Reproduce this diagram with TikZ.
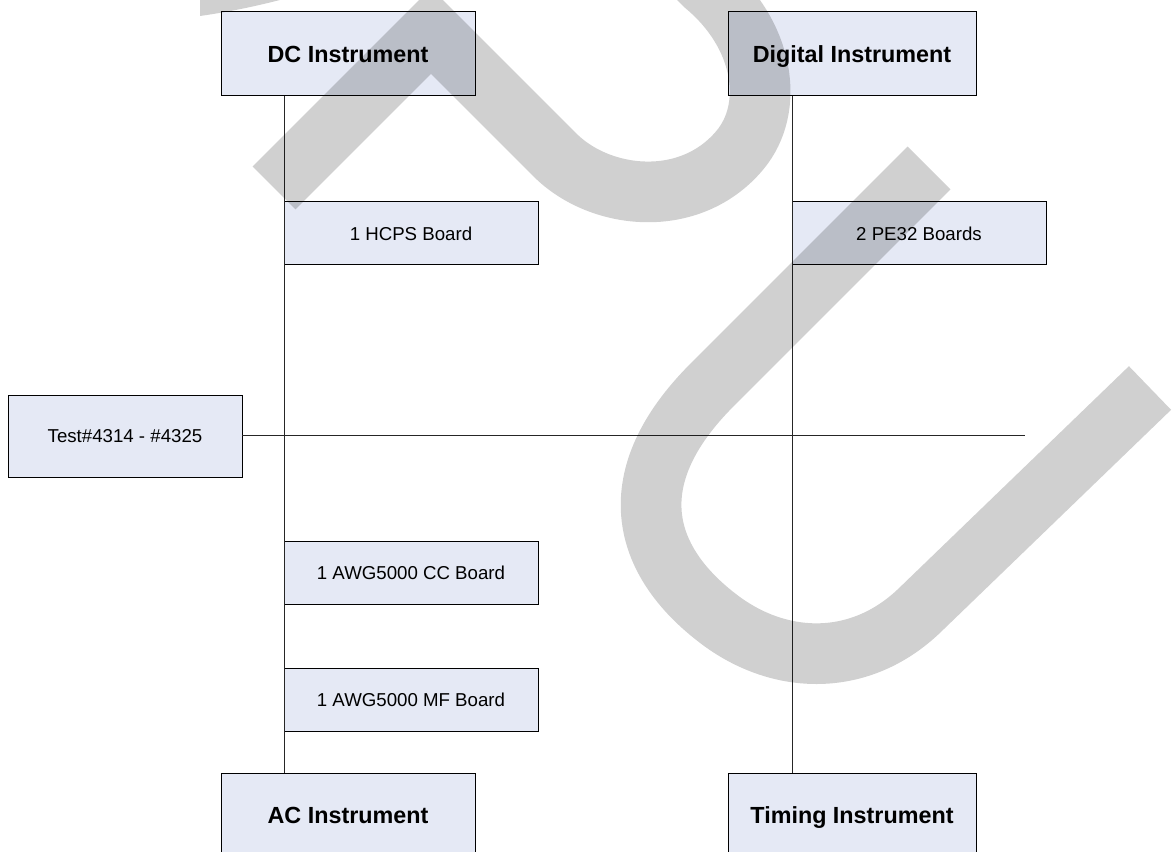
\documentclass[tikz,border=0pt]{standalone}
\usepackage{fontspec}
\setmainfont{Liberation Sans}
\definecolor{boxfill}{RGB}{229,233,245}
\begin{document}
\begin{tikzpicture}[x=0.75pt,y=-0.75pt,
  box/.style={draw=black,line width=0.75pt,fill=boxfill,inner sep=0pt,outer sep=0pt,
              minimum width=254*0.75pt,align=center,text depth=0pt},
  instr/.style={box,minimum height=84*0.75pt,text height=12.5pt,
                font=\fontsize{17.5}{20}\selectfont\bfseries},
  board/.style={box,minimum height=63*0.75pt,text height=10pt,
                font=\fontsize{14}{16}\selectfont},
  link/.style={draw=black!85,line width=0.75pt},
  shadeband/.style={draw=black,draw opacity=0.185,line width=45.5pt,line join=miter}]
\useasboundingbox (0,0) rectangle (1175,852);

% instruments
\node[instr] (dc)  at (348,54)  {DC Instrument};
\node[instr,minimum width=248*0.75pt] (dig) at (852,54)  {Digital Instrument};
\node[instr] (ac)  at (348,815) {AC Instrument};
\node[instr,minimum width=248*0.75pt] (tim) at (852,815) {Timing Instrument};

% boards
\node[board] (hcps) at (411,233.5) {1 HCPS Board};
\node[board] (pe)   at (919,233.5) {2 PE32 Boards};
\node[board] (cc)   at (411,572.5) {1 AWG5000 CC Board};
\node[board] (mf)   at (411,699.5) {1 AWG5000 MF Board};
\node[board,minimum width=234*0.75pt,minimum height=82*0.75pt] (test) at (125,436) {Test\#4314 - \#4325};

% free ends of the horizontal lines
\coordinate (hendA) at (813,435);
\coordinate (hendB) at (1025,435);

% connectors
\draw[link] (hcps.west |- dc.south) -- (hcps.west |- ac.north);
\draw[link] (pe.west |- dig.south) -- (pe.west |- tim.north);
\draw[link] (test.east |- hendA) -- (hendA);
\draw[link] (pe.west |- hendB) -- (hendB);

% grey background strokes
\draw[shadeband] (274,188) -- (431,31) -- (555,155)
  .. controls (600,200) and (690,210) .. (740,150)
  .. controls (775,108) and (765,35) .. (705,-15)
  -- (685,-35);
\draw[shadeband] (929,168) -- (712,385)
  .. controls (620,477) and (640,560) .. (720,620)
  .. controls (780,665) and (860,668) .. (920,610)
  -- (1150,388);
\fill[black,fill opacity=0.185] (200,0) -- (200,16) .. controls (235,11) and (260,5) .. (280,0) -- cycle;
\end{tikzpicture}
\end{document}
